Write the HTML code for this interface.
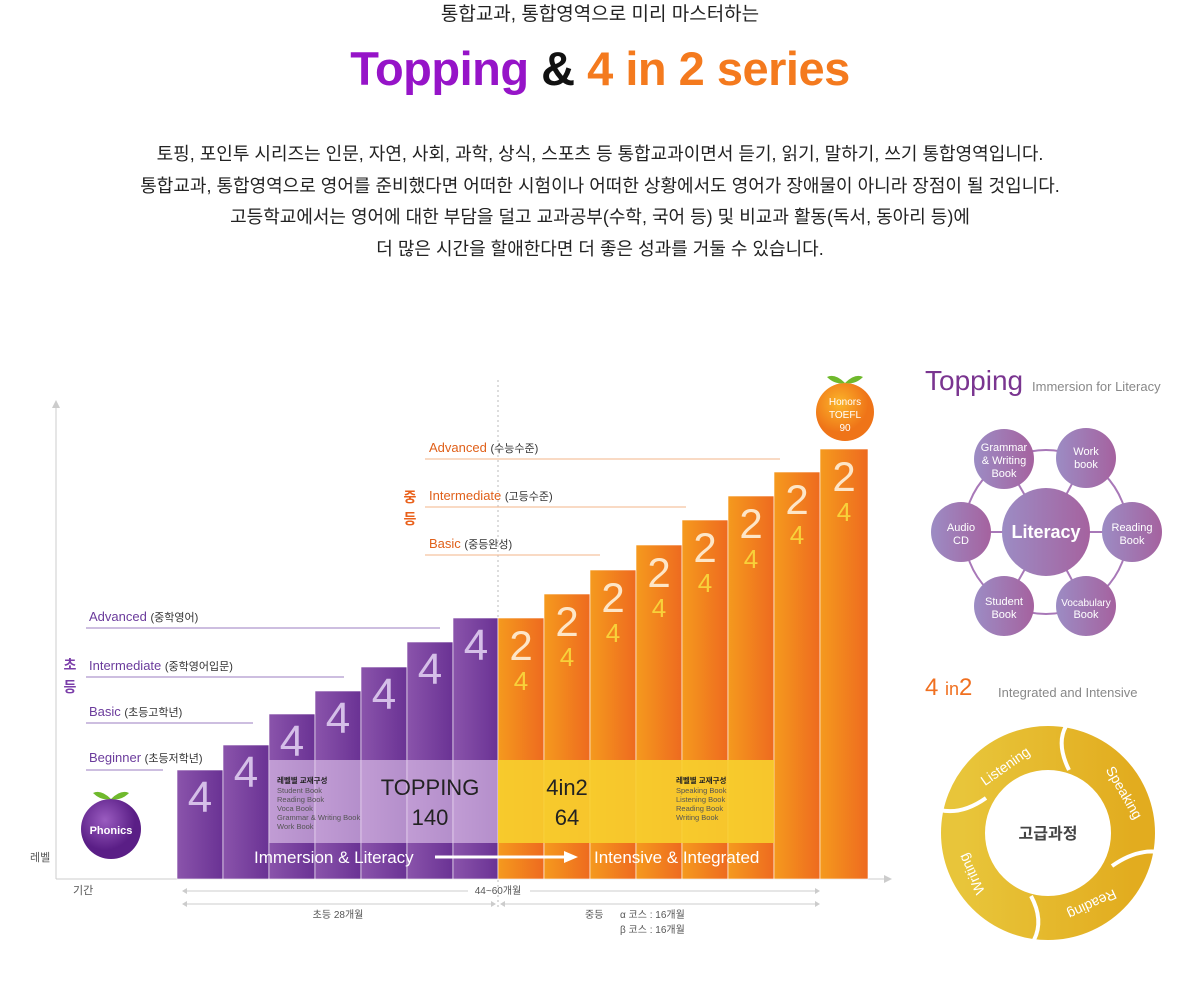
<!DOCTYPE html>
<html><head><meta charset="utf-8"><style>
body{margin:0;background:#fff;width:1200px;height:989px;overflow:hidden;font-family:"Liberation Sans","Noto Sans CJK KR",sans-serif}
svg{position:absolute;left:0;top:0}
svg text{font-family:"Liberation Sans","Noto Sans CJK KR",sans-serif}
</style></head><body>
<svg width="1200" height="989" viewBox="0 0 1200 989">
<defs>
<linearGradient id="pb" x1="0" x2="1"><stop offset="0" stop-color="#8a54ab"/><stop offset="1" stop-color="#6a3294"/></linearGradient>
<linearGradient id="ob" x1="0" x2="1"><stop offset="0" stop-color="#f59a1e"/><stop offset="1" stop-color="#ee6a1f"/></linearGradient>
<linearGradient id="lc" x1="0" x2="1"><stop offset="0" stop-color="#9c8cc4"/><stop offset="1" stop-color="#a5629f"/></linearGradient>
<radialGradient id="ph" cx="0.4" cy="0.35"><stop offset="0" stop-color="#9a5cc0"/><stop offset="1" stop-color="#5a1e86"/></radialGradient>
<radialGradient id="hn" cx="0.4" cy="0.35"><stop offset="0" stop-color="#fbb52a"/><stop offset="1" stop-color="#ef7418"/></radialGradient>
<linearGradient id="gd" x1="0" x2="1"><stop offset="0" stop-color="#e8c53a"/><stop offset="1" stop-color="#e2ac1f"/></linearGradient>
</defs>
<!-- header -->
<text x="600" y="20" font-size="19" text-anchor="middle" fill="#222">통합교과, 통합영역으로 미리 마스터하는</text>
<text x="600" y="85" font-size="47" font-weight="bold" text-anchor="middle" letter-spacing="-0.5"><tspan fill="#9614c8">Topping</tspan><tspan fill="#111"> &amp; </tspan><tspan fill="#f47a1e">4 in 2 series</tspan></text>
<g font-size="18" fill="#222" text-anchor="middle">
<text x="600" y="160">토핑, 포인투 시리즈는 인문, 자연, 사회, 과학, 상식, 스포츠 등 통합교과이면서 듣기, 읽기, 말하기, 쓰기 통합영역입니다.</text>
<text x="600" y="192">통합교과, 통합영역으로 영어를 준비했다면 어떠한 시험이나 어떠한 상황에서도 영어가 장애물이 아니라 장점이 될 것입니다.</text>
<text x="600" y="223">고등학교에서는 영어에 대한 부담을 덜고 교과공부(수학, 국어 등) 및 비교과 활동(독서, 동아리 등)에</text>
<text x="600" y="255">더 많은 시간을 할애한다면 더 좋은 성과를 거둘 수 있습니다.</text>
</g>
<!-- axes -->
<line x1="56" y1="402" x2="56" y2="879" stroke="#ccc"/>
<path d="M52 408 L56 400 L60 408Z" fill="#ccc"/>
<line x1="56" y1="879" x2="888" y2="879" stroke="#ccc"/>
<path d="M884 875 L892 879 L884 883Z" fill="#ccc"/>
<text x="30" y="861" font-size="11" fill="#555">레벨</text>
<text x="73" y="894" font-size="11" fill="#555">기간</text>
<line x1="498" y1="380" x2="498" y2="910" stroke="#bbb" stroke-dasharray="2,3"/>
<!-- level lines -->
<g font-size="13" fill="#6b3b9c">
<text x="89" y="621">Advanced <tspan font-size="11" fill="#333">(중학영어)</tspan></text>
<text x="89" y="670">Intermediate <tspan font-size="11" fill="#333">(중학영어입문)</tspan></text>
<text x="89" y="716">Basic <tspan font-size="11" fill="#333"> (초등고학년)</tspan></text>
<text x="89" y="762">Beginner <tspan font-size="11" fill="#333">(초등저학년)</tspan></text>
</g>
<g stroke="#9b7cc0"><line x1="86" y1="628" x2="440" y2="628"/><line x1="86" y1="677" x2="344" y2="677"/><line x1="86" y1="723" x2="253" y2="723"/><line x1="86" y1="770" x2="163" y2="770"/></g>
<g font-size="13" fill="#e0601a">
<text x="429" y="452">Advanced <tspan font-size="11" fill="#333">(수능수준)</tspan></text>
<text x="429" y="500">Intermediate <tspan font-size="11" fill="#333">(고등수준)</tspan></text>
<text x="429" y="548">Basic <tspan font-size="11" fill="#333"> (중등완성)</tspan></text>
</g>
<g stroke="#f3b48a"><line x1="425" y1="459" x2="780" y2="459"/><line x1="425" y1="507" x2="686" y2="507"/><line x1="425" y1="555" x2="600" y2="555"/></g>
<g font-size="14" font-weight="bold" text-anchor="middle"><text x="70" y="670" fill="#7a3ca8">초</text><text x="70" y="692" fill="#7a3ca8">등</text><text x="410" y="502" fill="#e9601a">중</text><text x="410" y="524" fill="#e9601a">등</text></g>
<!-- purple bars -->
<g fill="url(#pb)" stroke="#fff" stroke-width="0.6">
<rect x="177" y="770" width="46" height="109"/><rect x="223" y="745" width="46" height="134"/><rect x="269" y="714" width="46" height="165"/><rect x="315" y="691" width="46" height="188"/><rect x="361" y="667" width="46" height="212"/><rect x="407" y="642" width="46" height="237"/><rect x="453" y="618" width="45" height="261"/>
</g>
<g fill="url(#ob)" stroke="#fff" stroke-width="0.6">
<rect x="498" y="618" width="46" height="261"/><rect x="544" y="594" width="46" height="285"/><rect x="590" y="570" width="46" height="309"/><rect x="636" y="545" width="46" height="334"/><rect x="682" y="520" width="46" height="359"/><rect x="728" y="496" width="46" height="383"/><rect x="774" y="472" width="46" height="407"/><rect x="820" y="449" width="48" height="430"/>
</g>
<!-- bands -->
<rect x="269" y="760" width="229" height="83" fill="#e6cdf0" opacity="0.6"/>
<rect x="498" y="760" width="276" height="83" fill="#f7cf2e" opacity="0.9"/>
<g font-size="44" fill="#d5bfe8" text-anchor="middle">
<text x="200" y="812">4</text><text x="246" y="787">4</text><text x="292" y="756">4</text><text x="338" y="733">4</text><text x="384" y="709">4</text><text x="430" y="684">4</text><text x="476" y="660">4</text>
</g>
<g font-size="42" fill="#fde6c8" text-anchor="middle">
<text x="521" y="660">2</text><text x="567" y="636">2</text><text x="613" y="612">2</text><text x="659" y="587">2</text><text x="705" y="562">2</text><text x="751" y="538">2</text><text x="797" y="514">2</text><text x="844" y="491">2</text>
</g>
<g font-size="26" fill="#f8d13a" text-anchor="middle">
<text x="521" y="690">4</text><text x="567" y="666">4</text><text x="613" y="642">4</text><text x="659" y="617">4</text><text x="705" y="592">4</text><text x="751" y="568">4</text><text x="797" y="544">4</text><text x="844" y="521">4</text>
</g>
<g font-size="22" fill="#222" text-anchor="middle"><text x="430" y="795">TOPPING</text><text x="430" y="825">140</text><text x="567" y="795">4in2</text><text x="567" y="825">64</text></g>
<g font-size="7.5" fill="#555">
<text x="277" y="783" font-weight="bold" fill="#222">레벨별 교재구성</text><text x="277" y="793">Student Book</text><text x="277" y="802">Reading Book</text><text x="277" y="811">Voca Book</text><text x="277" y="820">Grammar &amp; Writing Book</text><text x="277" y="829">Work Book</text>
<text x="676" y="783" font-weight="bold" fill="#222">레벨별 교재구성</text><text x="676" y="793">Speaking Book</text><text x="676" y="802">Listening Book</text><text x="676" y="811">Reading Book</text><text x="676" y="820">Writing Book</text>
</g>
<text x="254" y="863" font-size="17" fill="#fff">Immersion &amp; Literacy</text>
<line x1="435" y1="857" x2="566" y2="857" stroke="#fff" stroke-width="3"/><path d="M564 851 L578 857 L564 863Z" fill="#fff"/>
<text x="594" y="863" font-size="17" fill="#fff">Intensive &amp; Integrated</text>
<!-- circles -->
<circle cx="111" cy="829" r="30" fill="url(#ph)"/>
<path d="M111 799 q-10 -10 -18 -6 q8 8 18 6z M111 799 q10 -10 18 -6 q-8 8 -18 6z" fill="#6fb92c"/>
<text x="111" y="834" font-size="11" font-weight="bold" fill="#fff" text-anchor="middle">Phonics</text>
<circle cx="845" cy="412" r="29" fill="url(#hn)"/>
<path d="M845 383 q-10 -10 -18 -6 q8 8 18 6z M845 383 q10 -10 18 -6 q-8 8 -18 6z" fill="#6fb92c"/>
<g font-size="10" fill="#fff" text-anchor="middle"><text x="845" y="405">Honors</text><text x="845" y="418">TOEFL</text><text x="845" y="431">90</text></g>
<!-- period -->
<g stroke="#ccc"><line x1="184" y1="891" x2="468" y2="891"/><line x1="530" y1="891" x2="818" y2="891"/><line x1="184" y1="904" x2="494" y2="904"/><line x1="502" y1="904" x2="818" y2="904"/></g>
<g fill="#ccc"><path d="M182 891 l5 -3 v6z M820 891 l-5 -3 v6z M182 904 l5 -3 v6z M820 904 l-5 -3 v6z M496 904 l-5 -3 v6z M500 904 l5 -3 v6z"/></g>
<g font-size="10" fill="#555"><text x="498" y="894" text-anchor="middle">44~60개월</text><text x="338" y="918" text-anchor="middle">초등 28개월</text><text x="585" y="918">중등</text><text x="620" y="918">α 코스 : 16개월</text><text x="620" y="933">β 코스 : 16개월</text></g>
<!-- right top -->
<text x="925" y="390" font-size="28" fill="#7a3590">Topping</text>
<text x="1032" y="391" font-size="13" fill="#888">Immersion for Literacy</text>
<circle cx="1046" cy="532" r="82" fill="none" stroke="#a878b8" stroke-width="2"/>
<g stroke="#a878b8" stroke-width="2"><line x1="1046" y1="532" x2="961" y2="532"/><line x1="1046" y1="532" x2="1132" y2="532"/><line x1="1046" y1="532" x2="1004" y2="459"/><line x1="1046" y1="532" x2="1086" y2="458"/><line x1="1046" y1="532" x2="1004" y2="606"/><line x1="1046" y1="532" x2="1086" y2="606"/></g>
<g fill="url(#lc)"><circle cx="1046" cy="532" r="44"/><circle cx="1004" cy="459" r="30"/><circle cx="1086" cy="458" r="30"/><circle cx="1132" cy="532" r="30"/><circle cx="1086" cy="606" r="30"/><circle cx="1004" cy="606" r="30"/><circle cx="961" cy="532" r="30"/></g>
<g fill="#fff" text-anchor="middle" font-size="11">
<text x="1046" y="538" font-size="18" font-weight="bold">Literacy</text>
<text x="1004" y="451">Grammar</text><text x="1004" y="464">&amp; Writing</text><text x="1004" y="477">Book</text>
<text x="1086" y="455">Work</text><text x="1086" y="468">book</text>
<text x="1132" y="531">Reading</text><text x="1132" y="544">Book</text>
<text x="961" y="531">Audio</text><text x="961" y="544">CD</text>
<text x="1004" y="605">Student</text><text x="1004" y="618">Book</text>
<text x="1086" y="606" font-size="10">Vocabulary</text><text x="1086" y="618">Book</text>
</g>
<!-- right bottom -->
<text x="925" y="695" font-size="24" fill="#f07020">4 <tspan font-size="18">in</tspan>2</text>
<text x="998" y="697" font-size="13" fill="#888">Integrated and Intensive</text>
<circle cx="1048" cy="833" r="85" fill="none" stroke="url(#gd)" stroke-width="44"/>
<g stroke="#fff" stroke-width="4" fill="none">
<path d="M1066 726 q-10 18 3 44"/><path d="M1158 852 q-22 -3 -46 14"/><path d="M1034 940 q10 -20 -3 -44"/><path d="M940 810 q22 5 46 -12"/>
</g>
<g font-size="14" fill="#fff" text-anchor="middle">
<text x="1008" y="770" transform="rotate(-35 1008 770)">Listening</text>
<text x="1120" y="795" transform="rotate(60 1120 795)">Speaking</text>
<text x="1090" y="900" transform="rotate(155 1090 900)">Reading</text>
<text x="976" y="872" transform="rotate(-115 976 872)">Writing</text>
</g>
<text x="1048" y="839" font-size="16" font-weight="bold" fill="#444" text-anchor="middle">고급과정</text>
</svg>
</body></html>
